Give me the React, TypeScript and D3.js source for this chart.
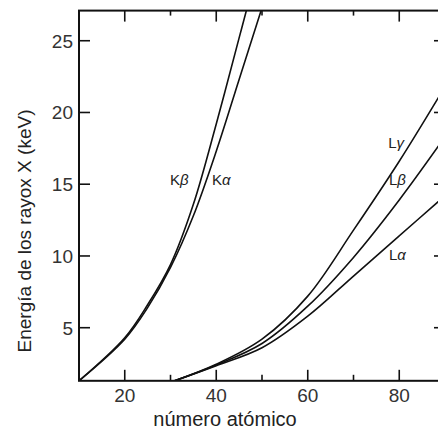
import React, { useEffect, useRef } from 'react';
import * as d3 from 'd3';

// values: [atomic number, energy keV]
const kBeta: [number, number][] = [[10, 1.3], [20, 4.3], [25, 6.6], [30, 9.4], [35, 13.6], [40, 19.2], [45, 25.2], [47, 27.6]];
const kAlpha: [number, number][] = [[10, 1.3], [20, 4.2], [25, 6.4], [30, 9.2], [35, 12.8], [40, 17.3], [45, 22.3], [50, 27.3]];
const lGamma: [number, number][] = [[30.9, 1.3], [40, 2.45], [50, 4.2], [60, 7.2], [70, 11.8], [80, 16.6], [90, 21.8]];
const lBeta: [number, number][] = [[30.9, 1.3], [40, 2.4], [50, 3.9], [60, 6.5], [70, 9.9], [80, 13.9], [90, 18.3]];
const lAlpha: [number, number][] = [[30.9, 1.3], [40, 2.35], [50, 3.6], [60, 5.8], [70, 8.6], [80, 11.4], [90, 14.2]];

const xMajor = [20, 40, 60, 80];
const xMinor = [30, 50, 70];
const yTicks = [5, 10, 15, 20, 25];

const curves = [kBeta, kAlpha, lGamma, lBeta, lAlpha];
const labels = [
  { base: 'K', greek: 'β', at: [31.9, 15.3] },
  { base: 'K', greek: 'α', at: [41.1, 15.3] },
  { base: 'L', greek: 'γ', at: [79.3, 17.9] },
  { base: 'L', greek: 'β', at: [79.6, 15.3] },
  { base: 'L', greek: 'α', at: [79.6, 10.1] },
];

const App = () => {
  const ref = useRef<SVGSVGElement>(null);

  useEffect(() => {
    const width = 438;
    const height = 430;
    const left = 79, right = 445, top = 10.6, bottom = 380.8;

    const svg = d3.select(ref.current);
    svg.selectAll('*').remove();

    const x = d3.scaleLinear().domain([10, 90]).range([left, right]);
    const y = d3.scaleLinear().domain([1.3, 27.1]).range([bottom, top]);

    svg.append('defs').append('clipPath').attr('id', 'plot')
      .append('rect').attr('x', left).attr('y', top)
      .attr('width', right - left).attr('height', bottom - top);

    const line = d3.line<[number, number]>()
      .x(d => x(d[0]))
      .y(d => y(d[1]))
      .curve(d3.curveCatmullRom.alpha(0.5));

    svg.append('g').attr('clip-path', 'url(#plot)')
      .selectAll('path')
      .data(curves)
      .enter().append('path')
      .attr('d', d => line(d))
      .attr('fill', 'none')
      .attr('stroke', '#111')
      .attr('stroke-width', 1.6);

    // frame
    svg.append('rect')
      .attr('x', left).attr('y', top)
      .attr('width', right - left).attr('height', bottom - top)
      .attr('fill', 'none').attr('stroke', '#111').attr('stroke-width', 2);

    const ticks = svg.append('g').attr('stroke', '#111').attr('stroke-width', 1.6);
    xMajor.forEach(v => {
      ticks.append('line').attr('x1', x(v)).attr('x2', x(v)).attr('y1', bottom).attr('y2', bottom - 11);
      ticks.append('line').attr('x1', x(v)).attr('x2', x(v)).attr('y1', top).attr('y2', top + 11);
    });
    xMinor.forEach(v => {
      ticks.append('line').attr('x1', x(v)).attr('x2', x(v)).attr('y1', bottom).attr('y2', bottom - 6);
      ticks.append('line').attr('x1', x(v)).attr('x2', x(v)).attr('y1', top).attr('y2', top + 5);
    });
    yTicks.forEach(v => {
      ticks.append('line').attr('x1', left).attr('x2', left + 11).attr('y1', y(v)).attr('y2', y(v));
      ticks.append('line').attr('x1', right).attr('x2', right - 11).attr('y1', y(v)).attr('y2', y(v));
    });

    const font = 'Liberation Sans, Arial, sans-serif';

    svg.append('g').selectAll('text')
      .data(yTicks)
      .enter().append('text')
      .attr('x', left - 6)
      .attr('y', d => y(d))
      .attr('dy', '0.36em')
      .attr('text-anchor', 'end')
      .attr('font-family', font)
      .attr('font-size', 19)
      .attr('fill', '#333')
      .text(d => d);

    svg.append('g').selectAll('text')
      .data(xMajor)
      .enter().append('text')
      .attr('x', d => x(d))
      .attr('y', bottom + 21)
      .attr('text-anchor', 'middle')
      .attr('font-family', font)
      .attr('font-size', 19)
      .attr('fill', '#333')
      .text(d => d);

    svg.append('text')
      .attr('x', 225)
      .attr('y', 426)
      .attr('text-anchor', 'middle')
      .attr('font-family', font)
      .attr('font-size', 20)
      .attr('fill', '#222')
      .text('número atómico');

    svg.append('text')
      .attr('transform', 'translate(31,231) rotate(-90)')
      .attr('text-anchor', 'middle')
      .attr('font-family', font)
      .attr('font-size', 19)
      .attr('fill', '#222')
      .text('Energía de los rayox X (keV)');

    const lab = svg.append('g').selectAll('text')
      .data(labels)
      .enter().append('text')
      .attr('x', d => x(d.at[0]))
      .attr('y', d => y(d.at[1]))
      .attr('dy', '0.35em')
      .attr('text-anchor', 'middle')
      .attr('font-family', font)
      .attr('font-size', 15)
      .attr('fill', '#222');
    lab.append('tspan').text(d => d.base);
    lab.append('tspan').attr('font-style', 'italic').text(d => d.greek);

    svg.attr('width', width).attr('height', height);
  }, []);

  return (
    <svg ref={ref} width={438} height={430}
      style={{ position: 'fixed', left: 0, top: 0, background: '#fff' }} />
  );
};

export default App;
